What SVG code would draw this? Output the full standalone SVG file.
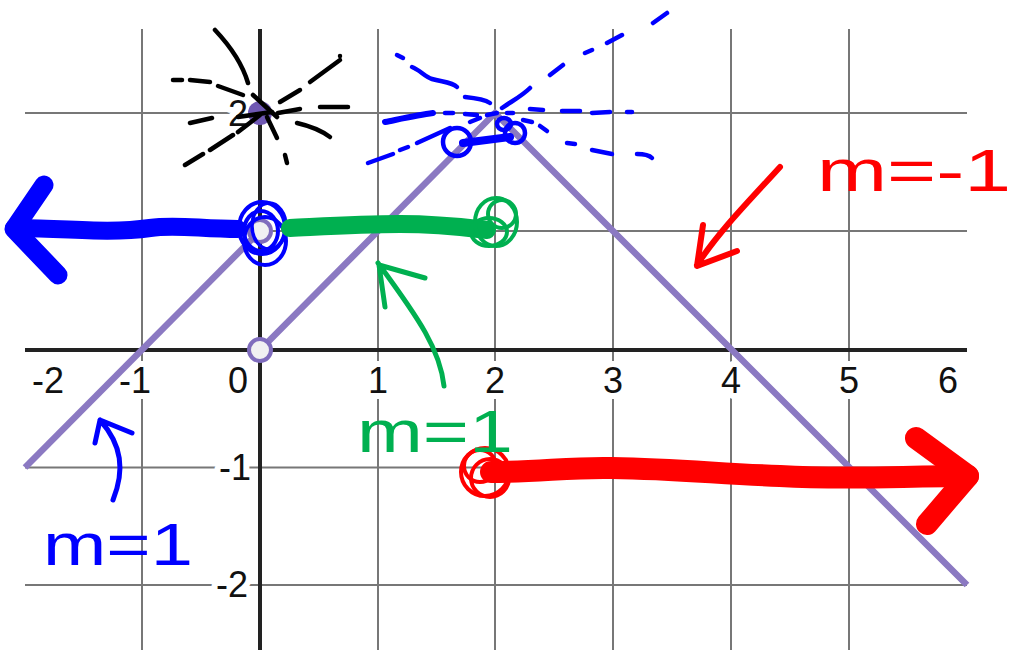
<svg xmlns="http://www.w3.org/2000/svg" width="1013" height="650" viewBox="0 0 1013 650">
<style>
.grid{stroke:#777;stroke-width:2;fill:none}
.axis{stroke:#222;stroke-width:4;fill:none}
.lbl{font-family:"Liberation Sans",Arial,sans-serif;font-size:36px;fill:#111;stroke:#fff;stroke-width:12;paint-order:stroke;stroke-linejoin:round}
.fn{stroke:#8b79c2;stroke-width:6.5;fill:none;stroke-linejoin:miter}
.open{fill:#f0f0f2;stroke:#7f6cbd;stroke-width:4}
.ink{fill:none;stroke-linecap:round;stroke-linejoin:round}
.blue{stroke:#0000ff}
.green{stroke:#00b050}
.red{stroke:#ff0000}
.black{stroke:#000}
.hand{font-family:"Liberation Sans",Arial,sans-serif;font-size:60px}
</style>
<rect width="1013" height="650" fill="#fff"/>
<g id="grid">
<path class="grid" d="M142 29V650M378 29V650M495 29V650M613 29V650M731 29V650M849 29V650M25 113H967M25 231H967M25 467.5H967M25 585H967"/>
</g>
<g id="axes">
<path class="axis" d="M260 29V650M25 350H967"/>
</g>
<g id="labels">
<text class="lbl" x="48" y="393" text-anchor="middle">-2</text>
<text class="lbl" x="135" y="393" text-anchor="middle">-1</text>
<text class="lbl" x="238" y="393" text-anchor="middle">0</text>
<text class="lbl" x="378" y="393" text-anchor="middle">1</text>
<text class="lbl" x="495" y="393" text-anchor="middle">2</text>
<text class="lbl" x="613" y="393" text-anchor="middle">3</text>
<text class="lbl" x="731" y="393" text-anchor="middle">4</text>
<text class="lbl" x="849" y="393" text-anchor="middle">5</text>
<text class="lbl" x="948" y="393" text-anchor="middle">6</text>
<text class="lbl" x="248" y="126" text-anchor="end">2</text>
<text class="lbl" x="251" y="480" text-anchor="end">-1</text>
<text class="lbl" x="248" y="597" text-anchor="end">-2</text>
</g>
<g id="function">
<path class="fn" d="M25 467.5L260 231"/>
<path class="fn" d="M260 350L495 113L967 585"/>
<circle cx="260" cy="113" r="12" fill="#6f58b3"/>
<circle class="open" cx="260" cy="350" r="11"/>
<circle class="open" cx="260" cy="231" r="11"/>
</g>
<g id="black-scribble" class="ink black" stroke-width="4.5">
<path d="M215 30C232 48 243 66 248 83M253 95L277 117"/>
<path d="M173 80H182M190 80L210 82M218 86L243 95"/>
<path d="M238 117L272 112M190 123L212 118"/>
<path d="M185 165L203 154M210 150L233 135M238 132L260 115"/>
<path d="M280 102L300 90M310 82L340 60M340 56V56"/>
<path d="M278 113L300 109M320 107H348"/>
<path d="M297 123C310 126 322 131 330 137"/>
<path d="M267 117L277 138M285 155L287 163"/>
</g>
<g id="blue-scribble" class="ink blue" stroke-width="4.5">
<path d="M397 55L403 58M412 67C420 70 425 77 432 79C442 82 452 82 457 87M465 97C475 98 484 99 490 103"/>
<path d="M385 122C400 119 418 115 433 113" stroke-width="6"/>
<path d="M445 113H453M465 114L477 115M487 115L497 113M470 122L480 118"/>
<path d="M368 163L393 154M400 150L408 147M417 143L450 128"/>
<path d="M502 108C512 101 522 96 530 88M550 75L563 65M585 53L592 50M607 43L622 35M653 23L667 13"/>
<path d="M507 113H513M530 109L543 110M562 111L580 111M592 113L610 112M627 112H632"/>
<path d="M523 120L532 122M540 126L547 131M567 143L575 144M592 150L612 154M637 154C645 154 650 156 652 158"/>
<ellipse cx="457" cy="142" rx="14" ry="14"/>
<ellipse cx="515" cy="133" rx="10" ry="10"/>
<ellipse cx="504" cy="124" rx="7" ry="6"/>
<path d="M463 143L510 137" stroke-width="8"/>
</g>
<g id="blue-arrow" class="ink blue">
<path d="M238 229C200 229 175 224 150 228C110 234 60 228 14 228" stroke-width="18"/>
<path d="M44 185L14 229L58 275" stroke-width="19"/>
<ellipse cx="262" cy="228" rx="23" ry="26" stroke-width="4"/>
<ellipse cx="265" cy="241" rx="21" ry="24" stroke-width="4"/>
<ellipse cx="261" cy="231" rx="17" ry="20" stroke-width="4"/>
<ellipse cx="269" cy="226" rx="17" ry="23" stroke-width="3.5"/>
</g>
<g id="green-segment" class="ink green">
<path d="M290 228C330 226 360 224 400 224C440 224 470 228 487 230" stroke-width="18"/>
<ellipse cx="496" cy="222" rx="21" ry="24" stroke-width="4"/>
<ellipse cx="502" cy="214" rx="14" ry="14" stroke-width="4"/>
<ellipse cx="489" cy="232" rx="18" ry="14" stroke-width="4"/>
</g>
<g id="red-ray" class="ink red">
<path d="M491 472C540 472 570 467 612 468C680 469 720 474 780 476C850 480 900 476 968 476" stroke-width="22"/>
<path d="M916 438L968 476L927 524" stroke-width="22"/>
<ellipse cx="485" cy="472" rx="24" ry="24" stroke-width="4"/>
<ellipse cx="490" cy="478" rx="19" ry="19" stroke-width="4"/>
<ellipse cx="480" cy="466" rx="16" ry="16" stroke-width="4"/>
</g>
<g id="connectors" class="ink">
<path class="green" d="M444 386C440 350 420 320 378 263M385 307L379 265L425 278" stroke-width="5"/>
<path class="red" d="M780 167C750 200 720 230 697 265M703 225L697 266L737 251" stroke-width="6"/>
<path class="blue" d="M113 500C125 470 122 445 100 420M95 443L100 420L132 433" stroke-width="5"/>
</g>
<g id="slope-labels">
<text class="hand" x="357" y="452" fill="#00b050" font-size="52" textLength="156" lengthAdjust="spacingAndGlyphs">m=1</text>
<text class="hand" x="817" y="191" fill="#ff0000" font-size="60" textLength="194" lengthAdjust="spacingAndGlyphs">m=-1</text>
<text class="hand" x="43" y="565" fill="#0000ff" font-size="60" textLength="150" lengthAdjust="spacingAndGlyphs">m=1</text>
</g>
</svg>
